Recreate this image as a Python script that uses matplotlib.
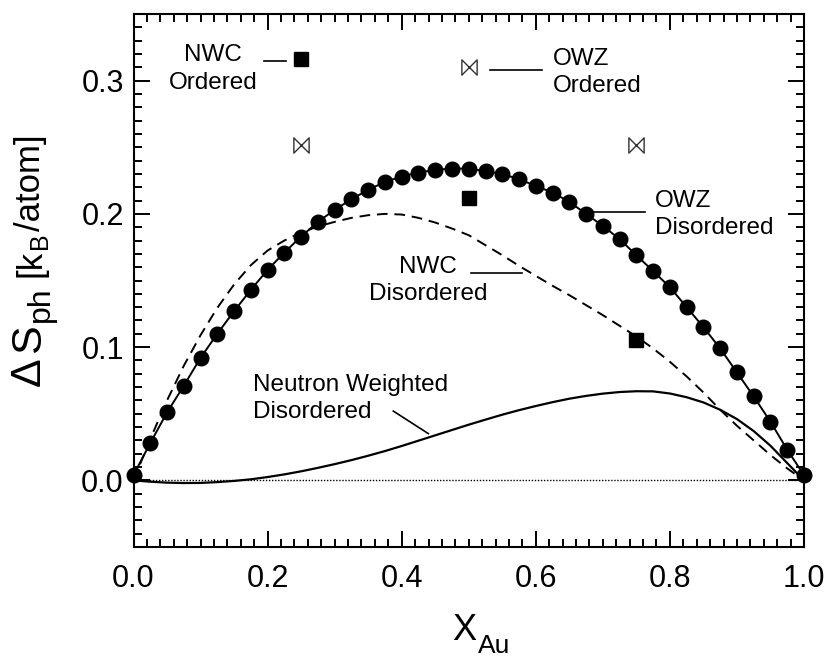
import numpy as np
import matplotlib
matplotlib.use("Agg")
import matplotlib.pyplot as plt
from matplotlib.path import Path

plt.rcParams['font.family'] = ['Liberation Sans', 'DejaVu Sans']

# OWZ disordered (circles + line)
owz_x = [0.000, 0.025, 0.050, 0.075, 0.100, 0.125, 0.150, 0.175, 0.200, 0.225,
         0.250, 0.275, 0.300, 0.325, 0.350, 0.375, 0.400, 0.425, 0.450, 0.475,
         0.500, 0.525, 0.550, 0.575, 0.600, 0.625, 0.650, 0.675, 0.700, 0.725,
         0.750, 0.775, 0.800, 0.825, 0.850, 0.875, 0.900, 0.925, 0.950, 0.975, 1.000]
owz_dis = [0.004, 0.028, 0.051, 0.071, 0.092, 0.110, 0.127, 0.143, 0.158, 0.171,
           0.183, 0.194, 0.203, 0.211, 0.218, 0.224, 0.228, 0.231, 0.233, 0.234,
           0.234, 0.232, 0.230, 0.226, 0.221, 0.216, 0.209, 0.200, 0.191, 0.181,
           0.169, 0.157, 0.145, 0.130, 0.115, 0.099, 0.081, 0.063, 0.044, 0.023, 0.004]

# NWC disordered (dashed) and neutron weighted disordered (solid), same x grid
nwc_dis = [0.000, 0.031, 0.060, 0.086, 0.109, 0.1295, 0.147, 0.1615, 0.1725, 0.180,
           0.186, 0.1905, 0.194, 0.197, 0.199, 0.200, 0.1995, 0.197, 0.1935, 0.189,
           0.184, 0.1765, 0.169, 0.161, 0.1535, 0.146, 0.139, 0.1315, 0.124, 0.116,
           0.108, 0.099, 0.089, 0.078, 0.066, 0.053, 0.041, 0.030, 0.019, 0.009, 0.000]
neutron_dis = [0.000, -0.001, -0.0017, -0.002, -0.0019, -0.0013, -0.0004, 0.0008, 0.0025, 0.0045,
               0.0068, 0.0094, 0.0122, 0.0152, 0.0185, 0.022, 0.0258, 0.0298, 0.0338, 0.0378,
               0.0418, 0.0456, 0.0493, 0.0527, 0.0558, 0.0587, 0.0613, 0.0634, 0.0651, 0.0663,
               0.0669, 0.0668, 0.0652, 0.0624, 0.0585, 0.053, 0.046, 0.037, 0.026, 0.013, 0.000]

# ordered structures
ord_x = [0.25, 0.50, 0.75]
nwc_ord = [0.316, 0.212, 0.105]
owz_ord = [0.252, 0.310, 0.252]

# bow-tie marker for OWZ ordered
bowtie = Path([(-1, 1), (-1, -1), (1, 1), (1, -1), (-1, 1)],
              [Path.MOVETO, Path.LINETO, Path.LINETO, Path.LINETO, Path.CLOSEPOLY])

fig = plt.figure(figsize=(8.36, 6.6), dpi=100)
ax = fig.add_axes([0.1597, 0.1712, 0.8020, 0.8076])

ax.plot([0, 1], [0, 0], color='black', lw=1.0, ls=(0, (1, 1.2)))
ax.plot(owz_x, nwc_dis, color='black', lw=1.4, ls=(0, (5.5, 3.5)))
ax.plot(owz_x, neutron_dis, color='black', lw=1.6)
ax.plot(owz_x, owz_dis, color='black', lw=1.4, marker='o', ms=10.5, clip_on=False, zorder=5)
ax.plot(ord_x, nwc_ord, ls='none', marker='s', ms=10.5, color='black', zorder=5)
ax.plot(ord_x, owz_ord, ls='none', marker=bowtie, ms=11, mfc='none', mec='#333333', mew=1.0, zorder=5)

# labels + leader lines
fs = 17.5
ls = 1.3
ax.text(0.1186, 0.3087, 'NWC\nOrdered', ha='center', va='center', multialignment='center',
        fontsize=fs, linespacing=ls)
ax.plot([0.195, 0.228], [0.315, 0.315], color='black', lw=1.2)

ax.text(0.626, 0.306, 'OWZ\nOrdered', ha='left', va='center', multialignment='left',
        fontsize=fs, linespacing=ls)
ax.plot([0.531, 0.610], [0.3076, 0.3076], color='black', lw=1.2)

ax.text(0.7778, 0.1998, 'OWZ\nDisordered', ha='left', va='center', multialignment='left',
        fontsize=fs, linespacing=ls)
ax.plot([0.685, 0.763], [0.2013, 0.2013], color='black', lw=1.2)

ax.text(0.4393, 0.150, 'NWC\nDisordered', ha='center', va='center', multialignment='center',
        fontsize=fs, linespacing=ls)
ax.plot([0.504, 0.579], [0.1558, 0.1558], color='black', lw=1.2)

ax.text(0.1787, 0.0617, 'Neutron Weighted\nDisordered', ha='left', va='center',
        multialignment='left', fontsize=fs, linespacing=ls)
ax.plot([0.3875, 0.4397], [0.052, 0.0351], color='black', lw=1.2)

ax.set_xlim(0, 1)
ax.set_ylim(-0.05, 0.35)
ax.set_xticks(np.arange(0, 1.01, 0.2))
ax.set_xticks(np.arange(0, 1.001, 0.02), minor=True)
ax.set_yticks([0.0, 0.1, 0.2, 0.3])
ax.set_yticks(np.arange(-0.05, 0.351, 0.01), minor=True)
ax.set_xticklabels(['0.0', '0.2', '0.4', '0.6', '0.8', '1.0'])
ax.set_yticklabels(['0.0', '0.1', '0.2', '0.3'])
ax.tick_params(which='both', direction='in', top=True, right=True, width=1.4, labelsize=22)
ax.tick_params(axis='x', which='major', length=11.5, pad=12)
ax.tick_params(axis='y', which='major', length=11.5, pad=7)
ax.tick_params(which='minor', length=6)
for sp in ax.spines.values():
    sp.set_linewidth(1.5)

# axis labels built from pieces so the subscripts can be sized freely
renderer = fig.canvas.get_renderer()
W, H = 836, 660

# x label: X_Au
xpos = 452
for s, size, base in [('X', 26, 640), ('Au', 19, 653)]:
    t = fig.text(xpos / W, 1 - base / H, s, ha='left', va='baseline', fontsize=size)
    xpos += t.get_window_extent(renderer).width + 2

# y label: ΔS_ph [k_B/atom], going upward (pixel y decreasing)
ypos = 386
xb = 40
for s, size, shift, gap in [('Δ', 31, 0, 0), ('S', 31, 0, 4), ('ph', 23, 9, 3), ('[k', 25, 0, 9),
                            ('B', 18, 7, 1), ('/atom]', 25, 0, 1)]:
    ypos -= gap
    t = fig.text((xb + shift) / W, 1 - ypos / H, s, rotation=90, rotation_mode='anchor',
                 ha='left', va='baseline', fontsize=size)
    ypos -= t.get_window_extent(renderer).height

fig.savefig('out.png', dpi=100)
